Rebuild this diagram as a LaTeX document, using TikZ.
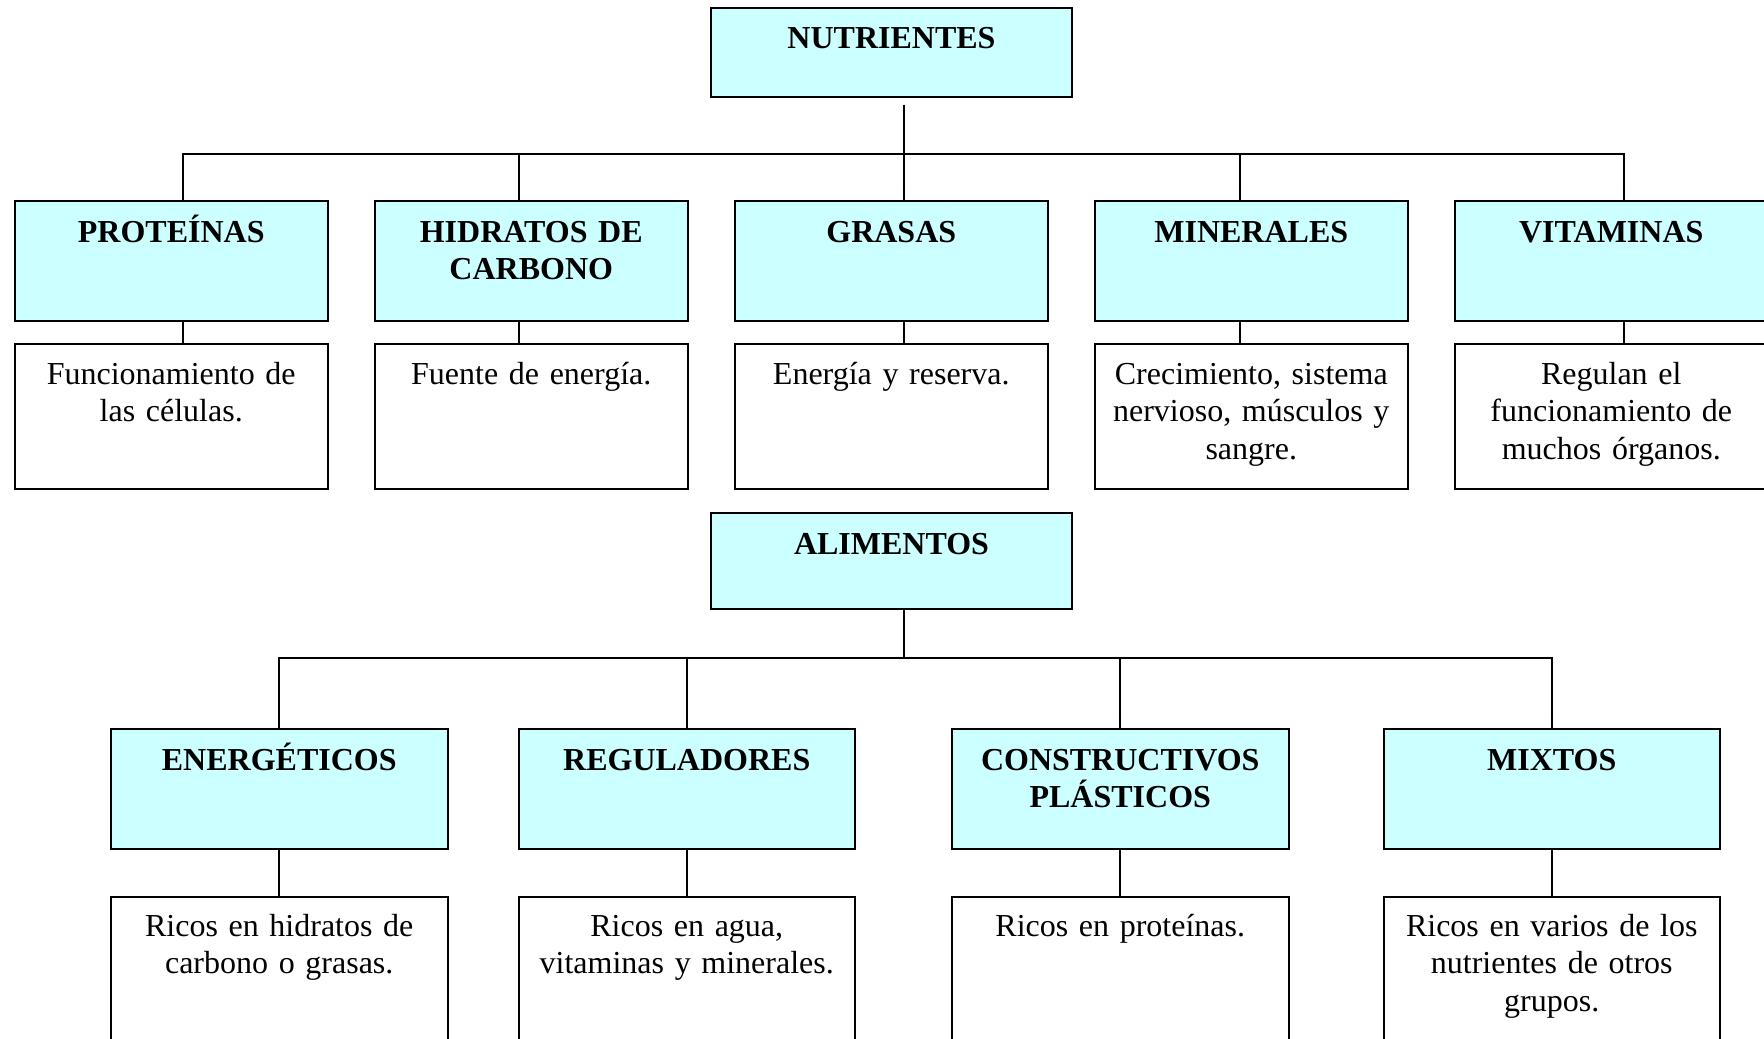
\documentclass[tikz,border=0pt]{standalone}
\usepackage{fontspec}
\setmainfont{Liberation Serif}
\definecolor{cyanfill}{RGB}{204,255,255}

\tikzset{every picture/.style={line width=1pt}}
\tikzset{
  headbox/.style={draw, fill=cyanfill, anchor=north west, inner sep=0pt, align=center,
    font=\fontsize{16}{18.5}\selectfont\bfseries},
  infobox/.style={draw, fill=white, anchor=north west, inner sep=0pt, align=center,
    font=\fontsize{16}{18.75}\selectfont},
  rootbox/.style={headbox, text width=180.5pt, text height=20.5pt},
  nutbox/.style={headbox, text width=156.25pt, text height=20.5pt, text depth=39.5pt},
  nutinfo/.style={infobox, text width=156.25pt, text height=20pt, text depth=52.5pt},
  alibox/.style={headbox, text width=168.25pt, text height=20.75pt, text depth=39.5pt},
  aliinfo/.style={infobox, text width=168.25pt, text height=19.5pt, text depth=60.5pt}
}

\begin{document}
\begin{tikzpicture}[x=0.5pt,y=0.5pt,yscale=-1,xscale=1]
\useasboundingbox (0,0) rectangle (1764,1038);
\clip (0,0) rectangle (1764,1038);

%Shape: Rectangle [NUTRIENTES]
\node [rootbox, text depth=24pt] (nut) at (710,7) {NUTRIENTES};

%Shape: Rectangle [nutrient groups]
\node [nutbox] (prot) at (14,200) {PROTEÍNAS};
\node [nutbox] (hidr) at (374,200) {HIDRATOS DE\\CARBONO};
\node [nutbox] (gras) at (734,200) {GRASAS};
\node [nutbox] (mine) at (1094,200) {MINERALES};
\node [nutbox] (vita) at (1454,200) {VITAMINAS};

%Shape: Rectangle [nutrient roles]
\node [nutinfo] (protd) at (14,343) {Funcionamiento de\\las células.};
\node [nutinfo] (hidrd) at (374,343) {Fuente de energía.};
\node [nutinfo] (grasd) at (734,343) {Energía y reserva.};
\node [nutinfo] (mined) at (1094,343) {Crecimiento, sistema\\nervioso, músculos y\\sangre.};
\node [nutinfo] (vitad) at (1454,343) {Regulan el\\funcionamiento de\\muchos órganos.};

%Straight Lines [NUTRIENTES tree]
\draw [shorten <=3.5pt] ([xshift=6.25pt]nut.south) -- +(0,56) -| ([xshift=6pt]prot.north);
\draw [shorten <=3.5pt] ([xshift=6.25pt]nut.south) -- +(0,56) -| ([xshift=-6.25pt]hidr.north);
\draw [shorten <=3.5pt] ([xshift=6.25pt]nut.south) -- +(0,56) -| ([xshift=6.5pt]gras.north);
\draw [shorten <=3.5pt] ([xshift=6.25pt]nut.south) -- +(0,56) -| ([xshift=-5.75pt]mine.north);
\draw [shorten <=3.5pt] ([xshift=6.25pt]nut.south) -- +(0,56) -| ([xshift=6.25pt]vita.north);
\draw ([xshift=6pt]prot.south) -- ([xshift=6pt]protd.north);
\draw ([xshift=-6.25pt]hidr.south) -- ([xshift=-6.25pt]hidrd.north);
\draw ([xshift=6.5pt]gras.south) -- ([xshift=6.5pt]grasd.north);
\draw ([xshift=-5.75pt]mine.south) -- ([xshift=-5.75pt]mined.north);
\draw ([xshift=6.25pt]vita.south) -- ([xshift=6.25pt]vitad.north);

%Shape: Rectangle [ALIMENTOS]
\node [rootbox, text depth=27.5pt] (ali) at (710,512) {ALIMENTOS};

%Shape: Rectangle [food groups]
\node [alibox] (ener) at (110,727.5) {ENERGÉTICOS};
\node [alibox] (regu) at (517.5,727.5) {REGULADORES};
\node [alibox] (cons) at (951,727.5) {CONSTRUCTIVOS\\PLÁSTICOS};
\node [alibox] (mixt) at (1382.5,727.5) {MIXTOS};

%Shape: Rectangle [food contents]
\node [aliinfo] (enerd) at (110,896) {Ricos en hidratos de\\carbono o grasas.};
\node [aliinfo] (regud) at (517.5,896) {Ricos en agua,\\vitaminas y minerales.};
\node [aliinfo] (consd) at (951,896) {Ricos en proteínas.};
\node [aliinfo] (mixtd) at (1382.5,896) {Ricos en varios de los\\nutrientes de otros\\grupos.};

%Straight Lines [ALIMENTOS tree]
\draw ([xshift=6.25pt]ali.south) -- +(0,48) -| (ener.north);
\draw ([xshift=6.25pt]ali.south) -- +(0,48) -| (regu.north);
\draw ([xshift=6.25pt]ali.south) -- +(0,48) -| (cons.north);
\draw ([xshift=6.25pt]ali.south) -- +(0,48) -| (mixt.north);
\draw (ener.south) -- (enerd.north);
\draw (regu.south) -- (regud.north);
\draw (cons.south) -- (consd.north);
\draw (mixt.south) -- (mixtd.north);

\end{tikzpicture}
\end{document}
